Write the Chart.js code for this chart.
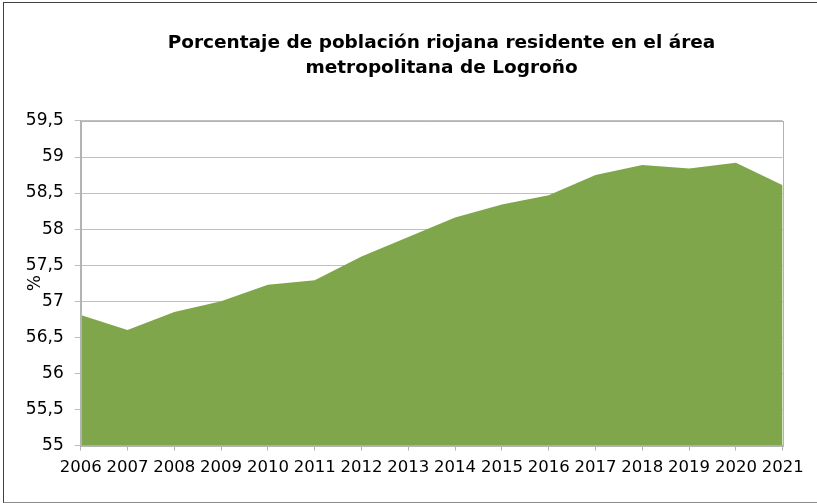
<!DOCTYPE html>
<html>
<head>
<meta charset="utf-8">
<script src="https://cdn.jsdelivr.net/npm/chart.js"></script>
<style>
  html, body { margin: 0; padding: 0; background: #fff; overflow: hidden; }
  #wrap { position: relative; width: 817px; height: 503px; overflow: hidden; }
  #chart { position: absolute; left: 0; top: 0; }
  #frame { position: absolute; left: 3px; top: 2px; width: 900px; height: 501px; box-sizing: border-box;
           border-left: 1px solid #404040; border-top: 1px solid #404040; border-bottom: 1px solid #8c8c8c;
           pointer-events: none; }
</style>
</head>
<body>
<div id="wrap">
  <canvas id="chart" width="883" height="503"></canvas>
  <div id="frame"></div>
</div>
<script>
const years = ["2006", "2007", "2008", "2009", "2010", "2011", "2012", "2013",
  "2014", "2015", "2016", "2017", "2018", "2019", "2020", "2021"];
const percentages = [56.81, 56.60, 56.85, 57.00, 57.23, 57.29, 57.62, 57.89,
  58.16, 58.34, 58.47, 58.75, 58.89, 58.84, 58.92, 58.61];
const yTicks = [55, 55.5, 56, 56.5, 57, 57.5, 58, 58.5, 59, 59.5];

const FONT = "'DejaVu Sans', 'Liberation Sans', sans-serif";
const GREEN = "#7fa64a";
const GRID = "#c0c0c0";
const AXIS = "#b3b3b3";

// thin border round the plot area (the fill covers the axis lines otherwise)
const plotBorder = {
  id: "plotBorder",
  afterLayout(chart) {
    // centre the title on the whole canvas, not only the padded part
    if (chart.titleBlock) {
      chart.titleBlock.left = 0;
      chart.titleBlock.right = chart.width;
    }
  },
  afterDatasetsDraw(chart) {
    const { ctx, chartArea: a } = chart;
    ctx.save();
    ctx.strokeStyle = AXIS;
    ctx.lineWidth = 1;
    ctx.strokeRect(Math.round(a.left) + 0.5, Math.round(a.top) + 0.5,
      Math.round(a.right - a.left), Math.round(a.bottom - a.top));
    ctx.restore();
  },
};

const ctx = document.getElementById("chart");

new Chart(ctx, {
  type: "line",
  data: {
    labels: years,
    datasets: [
      {
        label: "%",
        data: percentages,
        backgroundColor: GREEN,
        borderWidth: 0,
        pointRadius: 0,
        fill: "start",
        tension: 0,
      },
    ],
  },
  options: {
    responsive: false,
    animation: false,
    layout: { padding: { left: 0, right: 100.3, top: 0, bottom: 0 } },
    plugins: {
      legend: { display: false },
      tooltip: { enabled: false },
      title: {
        display: true,
        text: ["Porcentaje de población riojana residente en el área", "metropolitana de Logroño"],
        color: "#000",
        font: { family: FONT, size: 18.5, weight: "bold", lineHeight: 1.35 },
        padding: { top: 31, bottom: 40 },
      },
    },
    scales: {
      x: {
        grid: { drawOnChartArea: false, color: AXIS, tickLength: 5 },
        border: { color: AXIS },
        ticks: {
          autoSkip: false,
          maxRotation: 0,
          minRotation: 0,
          padding: 7,
          color: "#000",
          font: { family: FONT, size: 16.5 },
        },
        afterFit: (scale) => { scale.height = 57.5; },
      },
      y: {
        min: 55,
        max: 59.5,
        grid: { color: GRID, tickLength: 6 },
        border: { color: AXIS },
        afterBuildTicks: (axis) => { axis.ticks = yTicks.map((v) => ({ value: v })); },
        ticks: {
          padding: 11,
          color: "#000",
          font: { family: FONT, size: 17 },
          callback: (v) => String(v).replace(".", ","),
        },
        title: {
          display: true,
          text: "%",
          color: "#000",
          font: { family: FONT, size: 17 },
          padding: { top: 25, bottom: 0 },
        },
        afterFit: (scale) => { scale.width = 80.7; },
      },
    },
  },
  plugins: [plotBorder],
});
</script>
</body>
</html>
